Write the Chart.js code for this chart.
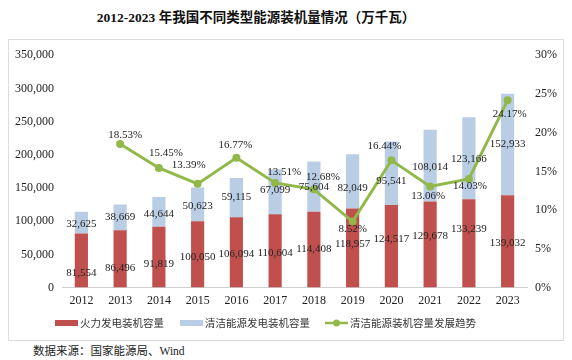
<!DOCTYPE html>
<html>
<head>
<meta charset="utf-8">
<script src="https://cdn.jsdelivr.net/npm/chart.js@4.4.1/dist/chart.umd.min.js"></script>
<style>
  html, body { margin: 0; padding: 0; background: #fff; }
  body { width: 572px; height: 360px; position: relative; overflow: hidden; font-family: "Liberation Serif", "Noto Sans CJK SC", serif; }
  #title { position: absolute; left: 0; top: 6px; width: 512px; text-align: center; font-size: 13.5px; font-weight: bold; color: #111; }
  #box { position: absolute; left: 8px; top: 39px; width: 554px; height: 300px; border: 1px solid #dcdcdc; }
  #source { position: absolute; left: 33px; top: 342px; font-size: 11.5px; color: #222; }
</style>
</head>
<body>
<div id="title">2012-2023 年我国不同类型能源装机量情况（万千瓦）</div>
<div id="box"><canvas id="chart" width="554" height="300"></canvas></div>
<div id="source">数据来源：国家能源局、Wind</div>
<script>
const years = ['2012', '2013', '2014', '2015', '2016', '2017', '2018', '2019', '2020', '2021', '2022', '2023'];
const thermal = [81554, 86496, 91819, 100050, 106094, 110604, 114408, 118957, 124517, 129678, 133239, 139032];
const clean = [32625, 38669, 44644, 50623, 59115, 67099, 75604, 82049, 95541, 108014, 123166, 152933];
const cleanTrend = [null, 18.53, 15.45, 13.39, 16.77, 13.51, 12.68, 8.52, 16.44, 13.06, 14.03, 24.17];

const RED = '#c0504d';
const BLUE = '#b9cde5';
const GREEN = '#93b84a';
const SERIF = '"Liberation Serif", "Times New Roman", serif';
const CJK = '"Noto Sans CJK SC", sans-serif';

// 标签相对位置微调（原图手动摆放）
const redLabelDy = [13, 9, 7, 3, 2, 2, -1, -4, -7, -8, -14, 2];
const blueLabelDy = [1, 0, 2, 2, 0, -2, 1, 7, 8, 1, 1, 0];
const trendDx = [0, 5, 7, -9, -1, 9, 9, 0, -7, -2, 1, 2];
const trendDy = [0, -9, -15, -19, -13, -11, -12, 8, -14, 10, 7, 14];

const valueLabels = {
  id: 'valueLabels',
  afterDatasetsDraw(chart) {
    const ctx = chart.ctx;
    ctx.save();
    ctx.fillStyle = '#222';
    ctx.font = '11px ' + SERIF;
    ctx.textAlign = 'center';
    ctx.textBaseline = 'middle';
    [0, 1].forEach(di => {
      const meta = chart.getDatasetMeta(di);
      const offs = di === 0 ? redLabelDy : blueLabelDy;
      meta.data.forEach((bar, i) => {
        const v = chart.data.datasets[di].data[i];
        const mid = (bar.y + bar.base) / 2;
        ctx.fillText(v.toLocaleString('en-US'), bar.x, mid + offs[i]);
      });
    });
    const lm = chart.getDatasetMeta(2);
    lm.data.forEach((pt, i) => {
      const v = cleanTrend[i];
      if (v == null) return;
      ctx.fillText(v.toFixed(2) + '%', pt.x + trendDx[i], pt.y + trendDy[i]);
    });
    ctx.restore();
  }
};

// 自绘图例
const bottomLegend = {
  id: 'bottomLegend',
  afterDraw(chart) {
    const ctx = chart.ctx;
    const y = 283;
    ctx.save();
    ctx.font = '10.5px ' + CJK;
    ctx.textBaseline = 'middle';
    ctx.fillStyle = RED;
    ctx.fillRect(46, y - 3, 23, 6);
    ctx.fillStyle = BLUE;
    ctx.fillRect(171, y - 3, 23, 6);
    ctx.strokeStyle = GREEN;
    ctx.lineWidth = 2.5;
    ctx.beginPath(); ctx.moveTo(316, y); ctx.lineTo(339, y); ctx.stroke();
    ctx.fillStyle = GREEN;
    ctx.beginPath(); ctx.arc(327.5, y, 3.5, 0, Math.PI * 2); ctx.fill();
    ctx.fillStyle = '#333';
    const ds = chart.data.datasets;
    ctx.fillText(ds[0].label, 71, y);
    ctx.fillText(ds[1].label, 196, y);
    ctx.fillText(ds[2].label, 341, y);
    ctx.restore();
  }
};

const ctx = document.getElementById('chart').getContext('2d');
const chart = new Chart(ctx, {
  data: {
    labels: years,
    datasets: [
      {
        type: 'bar',
        label: '火力发电装机容量',
        data: thermal,
        backgroundColor: RED,
        stack: 's',
        yAxisID: 'y',
        barPercentage: 0.34,
        categoryPercentage: 1,
        order: 2
      },
      {
        type: 'bar',
        label: '清洁能源发电装机容量',
        data: clean,
        backgroundColor: BLUE,
        stack: 's',
        yAxisID: 'y',
        barPercentage: 0.34,
        categoryPercentage: 1,
        order: 3
      },
      {
        type: 'line',
        label: '清洁能源装机容量发展趋势',
        data: cleanTrend,
        borderColor: GREEN,
        backgroundColor: GREEN,
        borderWidth: 3,
        pointRadius: 4,
        pointBackgroundColor: GREEN,
        pointBorderWidth: 0,
        tension: 0,
        yAxisID: 'y1',
        order: 1
      }
    ]
  },
  options: {
    responsive: false,
    animation: false,
    layout: { padding: { top: 6, bottom: 26, left: 0, right: 0 } },
    plugins: {
      legend: { display: false },
      tooltip: { enabled: false }
    },
    scales: {
      x: {
        stacked: true,
        grid: { display: false, drawTicks: false },
        border: { color: '#d0d0d0' },
        ticks: { color: '#222', font: { family: SERIF, size: 12 }, padding: 6 }
      },
      y: {
        stacked: true,
        min: 0,
        max: 350000,
        position: 'left',
        grid: { display: false, drawTicks: false },
        border: { display: false },
        afterFit(s) { s.width = 53; },
        ticks: {
          stepSize: 50000,
          padding: 8,
          color: '#222',
          font: { family: SERIF, size: 12 },
          callback: v => v.toLocaleString('en-US')
        }
      },
      y1: {
        min: 0,
        max: 30,
        position: 'right',
        grid: { display: false, drawTicks: false },
        border: { display: false },
        afterFit(s) { s.width = 36; },
        ticks: {
          stepSize: 5,
          padding: 8,
          color: '#222',
          font: { family: SERIF, size: 12 },
          callback: v => v + '%'
        }
      }
    }
  },
  plugins: [valueLabels, bottomLegend]
});
</script>
</body>
</html>
